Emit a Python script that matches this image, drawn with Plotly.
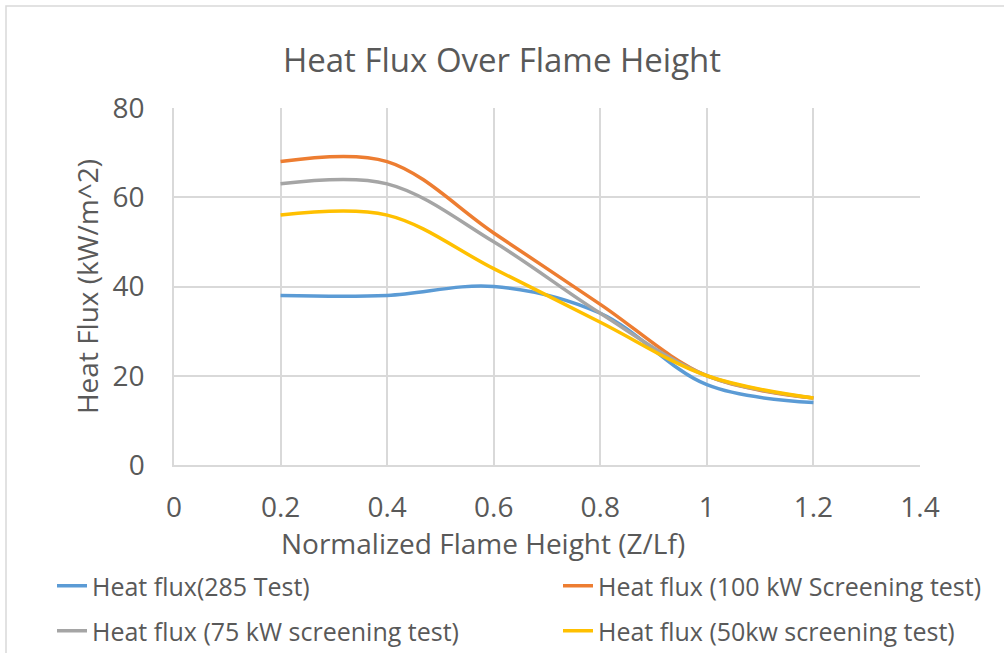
import plotly.graph_objects as go

x_vals = [0.2, 0.4, 0.6, 0.8, 1.0, 1.2]
test_285 = [38, 38, 40, 34, 18, 14]
screen_100 = [68, 68, 52, 36, 20, 15]
screen_75 = [63, 63, 50, 34, 20, 15]
screen_50 = [56, 56, 44, 32, 20, 15]

names = ["Heat flux(285 Test)", "Heat flux (100 kW Screening test)",
         "Heat flux (75 kW screening test)", "Heat flux (50kw screening test)"]
colors = ["#5B9BD5", "#ED7D31", "#A5A5A5", "#FFC000"]
series = [test_285, screen_100, screen_75, screen_50]
legends = ["legend", "legend2", "legend3", "legend4"]

FONT = "Open Sans"
TXT = "#595959"

fig = go.Figure()
for nm, col, ys, lg in zip(names, colors, series, legends):
    fig.add_trace(go.Scatter(x=x_vals, y=ys, name=nm, mode="lines", showlegend=True,
                             line=dict(color=col, width=3.5, shape="spline", smoothing=1.0),
                             legend=lg))

L, R, T, B = 174, 84, 108, 188
W, H = 1004, 653
pw = W - L - R
ph = H - T - B

def px_x(p):
    return (p - L) / pw

def px_y(p):
    return (H - B - p) / ph

leg_common = dict(orientation="h", xanchor="left", yanchor="middle",
                  font=dict(family=FONT, size=25, color=TXT),
                  bgcolor="rgba(0,0,0,0)", itemwidth=30)

fig.update_layout(
    width=W, height=H,
    showlegend=True,
    margin=dict(l=L, r=R, t=T, b=B, autoexpand=False),
    paper_bgcolor="white", plot_bgcolor="white",
    font=dict(family=FONT, color=TXT),
    title=dict(text="Heat Flux Over Flame Height", x=0.5, xanchor="center",
               y=(H - 60) / H, yanchor="middle",
               font=dict(family=FONT, size=33, color=TXT)),
    xaxis=dict(range=[0, 1.4], dtick=0.2, tick0=0, showgrid=True, gridcolor="#D9D9D9", gridwidth=1.5,
               showline=True, linecolor="#D9D9D9", linewidth=1.5, zeroline=False,
               ticks="", tickfont=dict(family=FONT, size=28, color=TXT),
               ticklabelstandoff=17),
    yaxis=dict(range=[0, 80], dtick=20, showgrid=True, gridcolor="#D9D9D9", gridwidth=1.5,
               showline=True, linecolor="#D9D9D9", linewidth=1.5, zeroline=False,
               ticks="", tickfont=dict(family=FONT, size=28, color=TXT),
               ticklabelstandoff=22,
               title=dict(text="Heat Flux (kW/m^2)", standoff=6,
                          font=dict(family=FONT, size=28, color=TXT))),
    annotations=[dict(text="Normalized Flame Height (Z/Lf)", xref="paper", yref="paper",
                      x=px_x(483), y=px_y(543), xanchor="center", yanchor="middle",
                      showarrow=False, font=dict(family=FONT, size=28, color=TXT))],
    legend=dict(x=px_x(52), y=px_y(586), **leg_common),
    legend2=dict(x=px_x(558), y=px_y(586), **leg_common),
    legend3=dict(x=px_x(52), y=px_y(631), **leg_common),
    legend4=dict(x=px_x(558), y=px_y(631), **leg_common),
    shapes=[dict(type="rect", xref="paper", yref="paper",
                 x0=px_x(6), x1=px_x(1100), y0=px_y(760), y1=px_y(6),
                 line=dict(color="#D9D9D9", width=1.5), fillcolor="rgba(0,0,0,0)", layer="below")],
)

fig.write_html("out.html")
